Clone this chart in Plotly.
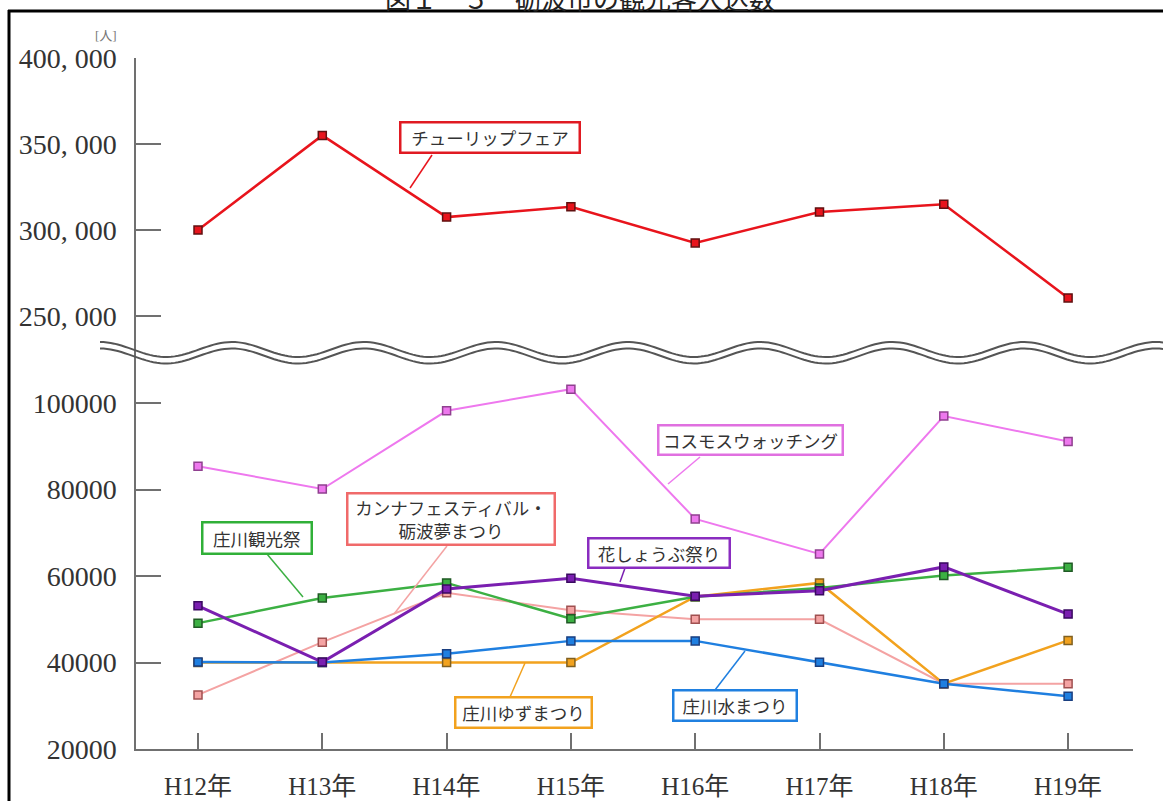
import numpy as np
import plotly.graph_objects as go

W, H = 1163, 801

# ---------------- data ----------------
categories = ["H12年", "H13年", "H14年", "H15年", "H16年", "H17年", "H18年", "H19年"]

tulip = [300000, 355000, 307500, 313500, 292500, 310500, 315000, 260500]      # チューリップフェア
cosmos = [85400, 80100, 98200, 103200, 73200, 65100, 97000, 91100]            # コスモスウォッチング
kanna = [32500, 44700, 56100, 52100, 50000, 50000, 35100, 35100]              # カンナフェスティバル・砺波夢まつり
kanko = [49100, 54900, 58400, 50100, 55200, 57200, 60100, 62000]              # 庄川観光祭
hanashobu = [53100, 40100, 57000, 59500, 55300, 56600, 62100, 51200]          # 花しょうぶ祭り
yuzu = [40000, 40000, 40000, 40000, 55200, 58400, 35100, 45100]               # 庄川ゆずまつり
mizu = [40100, 40000, 42000, 45000, 45000, 40050, 35100, 32200]               # 庄川水まつり

upper_tickvals = [250000, 300000, 350000, 400000]
upper_ticktext = ["250, 000", "300, 000", "350, 000", "400, 000"]
lower_tickvals = [20000, 40000, 60000, 80000, 100000]
lower_ticktext = ["20000", "40000", "60000", "80000", "100000"]

title_text = "図１－５　砺波市の観光客入込数"
unit_text = "[人]"

# ---------------- helpers ----------------
def X(px):
    return px / W

def Y(py):
    return 1 - py / H

xidx = list(range(len(categories)))

fig = go.Figure()

def add_series(vals, color, mline, width, axis="y"):
    fig.add_trace(go.Scatter(
        x=xidx, y=vals, mode="lines+markers", yaxis=axis, xaxis="x",
        line=dict(color=color, width=width),
        marker=dict(symbol="square", size=8, color=color,
                    line=dict(color=mline, width=1.5)),
        showlegend=False, hoverinfo="skip", cliponaxis=False))

add_series(kanna, "#f4a3a3", "#a05050", 2)
add_series(cosmos, "#ee78ee", "#904090", 2)
add_series(yuzu, "#f2a21e", "#806020", 2.5)
add_series(kanko, "#3cb043", "#205a25", 2.5)
add_series(mizu, "#1f7fe0", "#1a3f80", 2.5)
add_series(hanashobu, "#7a1fb0", "#3a0a60", 3)
add_series(tulip, "#e8141c", "#601010", 2.5, axis="y2")

# axis geometry (pixels)
x0_px, x1_px = 136, 1133
cat0_px, step_px = 198, 124.3
xr = [(x0_px - cat0_px) / step_px, (x1_px - cat0_px) / step_px]

split_px = 350
low_bot_px, up_top_px = 749, 58
low_per_px = 20000 / 86.5
up_per_px = 50000 / 86.0
low_range = [20000, 20000 + (low_bot_px - split_px) * low_per_px]
up_range = [400000 - (split_px - up_top_px) * up_per_px, 400000]

axis_col = "#707070"
tick_font = dict(family="Liberation Serif, Noto Sans CJK JP, serif", size=28, color="#333333")

fig.update_layout(
    width=W, height=H, autosize=False,
    margin=dict(l=0, r=0, t=0, b=0, autoexpand=False),
    paper_bgcolor="white", plot_bgcolor="rgba(0,0,0,0)",
    title=dict(text=title_text, x=X(580), xanchor="center", xref="paper",
               y=1, yref="container", yanchor="middle", automargin=False,
               font=dict(family="Noto Sans CJK JP", size=26, color="#222222")),
    xaxis=dict(domain=[X(x0_px), X(x1_px)], range=xr, anchor="y",
               tickmode="array", tickvals=xidx, ticktext=categories,
               ticks="inside", ticklen=16, tickwidth=1.5, tickcolor=axis_col,
               showline=True, linecolor=axis_col, linewidth=1.5,
               showgrid=False, zeroline=False, ticklabelstandoff=14,
               tickfont=dict(family="Liberation Serif, Noto Sans CJK JP, serif", size=25, color="#333333")),
    yaxis=dict(domain=[Y(low_bot_px), Y(split_px)], range=low_range, anchor="x",
               tickmode="array", tickvals=lower_tickvals, ticktext=lower_ticktext,
               ticks="inside", ticklen=25, tickwidth=1.5, tickcolor=axis_col,
               showline=True, linecolor=axis_col, linewidth=1.5,
               showgrid=False, zeroline=False, ticklabelstandoff=12,
               tickfont=tick_font),
    yaxis2=dict(domain=[Y(split_px), Y(up_top_px)], range=up_range, anchor="x",
                tickmode="array", tickvals=upper_tickvals, ticktext=upper_ticktext,
                ticks="inside", ticklen=25, tickwidth=1.5, tickcolor=axis_col,
                showline=True, linecolor=axis_col, linewidth=1.5,
                showgrid=False, zeroline=False, ticklabelstandoff=12,
                tickfont=tick_font),
)

shapes = []
# outer frame (left and top)
shapes.append(dict(type="line", xref="paper", yref="paper", x0=X(9), x1=X(9), y0=Y(10), y1=Y(801),
                   line=dict(color="black", width=3)))
shapes.append(dict(type="line", xref="paper", yref="paper", x0=X(8), x1=X(1163), y0=Y(11), y1=Y(11),
                   line=dict(color="black", width=3)))

# wavy break marks (decoration)
xs = np.linspace(100, 1163, 300)
for off in (0, 6.5):
    ys = 349.5 - 7.5 * np.cos(2 * np.pi * (xs - 100) / 132) + off
    path = "M " + " L ".join(f"{X(a):.5f},{Y(b):.5f}" for a, b in zip(xs, ys))
    shapes.append(dict(type="path", xref="paper", yref="paper", path=path,
                       line=dict(color="#555555", width=2)))

# label boxes: (text, center_x, center_y, w, h, border colour, leader, leader colour)
labels = [
    ("チューリップフェア", 490, 137.5, 180, 31, "#e01a22", ((432, 155), (410, 188)), "#e8141c"),
    ("コスモスウォッチング", 750, 440, 185, 30, "#e070e0", ((700, 457), (668, 484)), "#ee78ee"),
    ("カンナフェスティバル・<br>砺波夢まつり", 451, 519, 208, 52, "#f06a6a", ((447, 546), (394, 614)), "#f4a3a3"),
    ("庄川観光祭", 257, 538, 110, 32, "#30b038", ((267, 554), (303, 597)), "#3cb043"),
    ("花しょうぶ祭り", 659, 552.5, 142, 30, "#8a2cc0", ((625, 568), (620, 582)), "#7a1fb0"),
    ("庄川ゆずまつり", 523.5, 712.5, 137, 31, "#f2a21e", ((510, 697), (525, 663)), "#f2a21e"),
    ("庄川水まつり", 735, 705, 124, 31, "#2080e0", ((715, 690), (745, 651)), "#1f7fe0"),
]

annotations = []
for text, cx, cy, bw, bh, bcol, leader, lcol in labels:
    (lx0, ly0), (lx1, ly1) = leader
    shapes.append(dict(type="line", xref="paper", yref="paper",
                       x0=X(lx0), y0=Y(ly0), x1=X(lx1), y1=Y(ly1),
                       line=dict(color=lcol, width=1.5)))
    annotations.append(dict(
        xref="paper", yref="paper", x=X(cx), y=Y(cy), xanchor="center", yanchor="middle",
        text=text, showarrow=False, align="center",
        width=bw - 6, height=bh - 6, borderpad=1.5, borderwidth=2.5,
        bordercolor=bcol, bgcolor="white",
        font=dict(family="Noto Sans CJK JP", size=17.5, color="#333333")))

annotations.append(dict(xref="paper", yref="paper", x=X(106), y=Y(35),
                        xanchor="center", yanchor="middle", text=unit_text, showarrow=False,
                        font=dict(family="Liberation Serif, Noto Sans CJK JP, serif", size=13, color="#777777")))

fig.update_layout(shapes=shapes, annotations=annotations)

fig.write_html("out.html", config={"displayModeBar": False},
               post_script="document.body.style.margin='0px';")
